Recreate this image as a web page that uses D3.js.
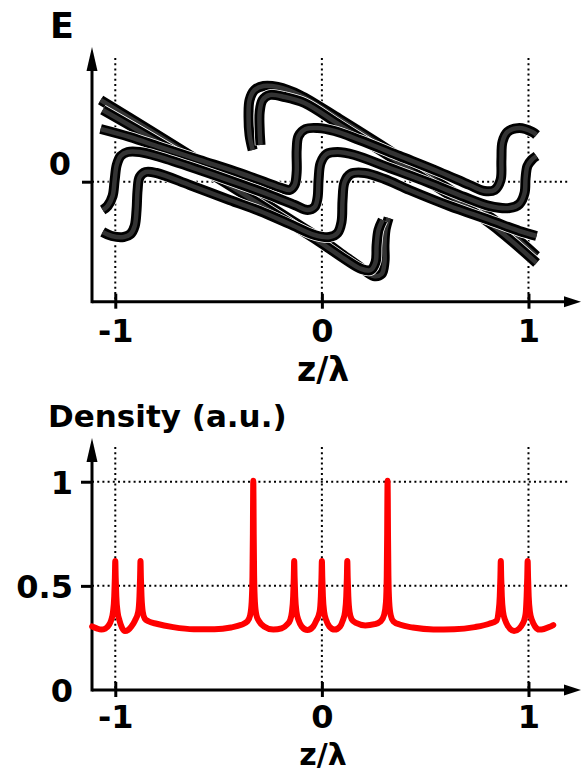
<!DOCTYPE html>
<html><head><meta charset="utf-8">
<script src="https://cdn.jsdelivr.net/npm/d3@7"></script>
<style>html,body{margin:0;padding:0;background:#fff;} svg{display:block}</style>
</head><body>
<svg id="chart" width="581" height="773"></svg>
<script>
// ---------- data ----------
const xTickValues = [-1, 0, 1];
const xTickLabels = ["-1", "0", "1"];
const eTickValues = [0];
const eTickLabels = ["0"];
const densityTickValues = [0.5, 1];
const densityTickLabels = ["0.5", "1"];
const densityZeroLabel = "0";
const xAxisTitle = "z/\u03bb";
const eAxisTitle = "E";
const densityAxisTitle = "Density (a.u.)";

// phase-space tubes, [z/lambda, E]
const tubeF1 = [[-1.071,0.817],[-0.834,0.517],[-0.592,0.207],[-0.350,-0.113],[-0.156,-0.373],[-0.011,-0.563],[0.110,-0.743],[0.192,-0.863],[0.250,-0.943],[0.289,-0.923],[0.303,-0.803],[0.303,-0.633],[0.308,-0.483],[0.323,-0.363]];
const tubeF2 = [[-1.061,0.717],[-0.834,0.447],[-0.592,0.147],[-0.350,-0.163],[-0.156,-0.413],[-0.011,-0.603],[0.110,-0.773],[0.192,-0.873],[0.236,-0.883],[0.260,-0.803],[0.265,-0.633],[0.274,-0.483],[0.294,-0.383]];
const tubeF3 = [[-0.335,0.317],[-0.350,0.467],[-0.355,0.667],[-0.350,0.817],[-0.326,0.917],[-0.282,0.957],[-0.214,0.947],[-0.108,0.867],[0.086,0.627],[0.279,0.377],[0.473,0.117],[0.666,-0.143],[0.860,-0.423],[1.039,-0.743]];
const tubeF4 = [[-0.297,0.367],[-0.301,0.517],[-0.301,0.697],[-0.287,0.817],[-0.253,0.867],[-0.180,0.847],[-0.084,0.787],[0.086,0.567],[0.279,0.317],[0.473,0.057],[0.666,-0.203],[0.860,-0.493],[1.039,-0.813]];
const tubeA = [[-1.071,0.527],[-0.930,0.447],[-0.785,0.347],[-0.592,0.217],[-0.398,0.087],[-0.277,-0.003],[-0.195,-0.063],[-0.156,-0.083],[-0.132,-0.033],[-0.122,0.097],[-0.122,0.317],[-0.113,0.457],[-0.079,0.527],[-0.021,0.537],[0.061,0.507],[0.182,0.417],[0.376,0.257],[0.569,0.097],[0.715,-0.033],[0.787,-0.093],[0.836,-0.083],[0.865,0.017],[0.869,0.217],[0.874,0.397],[0.898,0.497],[0.956,0.537],[1.019,0.497],[1.039,0.467]];
const tubeB = [[-1.061,-0.283],[-1.037,-0.243],[-1.013,-0.143],[-1.003,0.017],[-0.993,0.167],[-0.974,0.257],[-0.940,0.297],[-0.882,0.297],[-0.785,0.247],[-0.592,0.117],[-0.398,-0.023],[-0.253,-0.133],[-0.132,-0.233],[-0.069,-0.283],[-0.035,-0.253],[-0.021,-0.163],[-0.016,0.017],[-0.006,0.187],[0.023,0.277],[0.076,0.297],[0.158,0.267],[0.328,0.137],[0.521,-0.013],[0.690,-0.153],[0.811,-0.243],[0.908,-0.263],[0.956,-0.223],[0.981,-0.113],[0.986,0.037],[0.995,0.157],[1.015,0.217],[1.039,0.257]];
const tubeC = [[-1.061,-0.503],[-1.017,-0.543],[-0.959,-0.553],[-0.926,-0.523],[-0.906,-0.443],[-0.897,-0.283],[-0.892,-0.083],[-0.882,0.047],[-0.853,0.097],[-0.800,0.087],[-0.640,-0.033],[-0.447,-0.183],[-0.301,-0.293],[-0.156,-0.423],[-0.035,-0.533],[0.037,-0.553],[0.076,-0.513],[0.095,-0.403],[0.100,-0.183],[0.110,-0.003],[0.139,0.077],[0.207,0.087],[0.303,0.027],[0.424,-0.083],[0.618,-0.243],[0.811,-0.383],[0.956,-0.493],[1.039,-0.543]];

// density profile, [z/lambda, density]
const density = [
[-1.112,0.305],[-1.09,0.296],[-1.068,0.290],[-1.048,0.295],[-1.032,0.310],[-1.02,0.335],[-1.011,0.375],[-1.005,0.45],[-1.002,0.54],[-1.0,0.62],[-0.998,0.54],[-0.995,0.45],[-0.989,0.375],[-0.98,0.335],[-0.968,0.300],[-0.953,0.283],[-0.938,0.288],[-0.922,0.305],[-0.905,0.333],[-0.889,0.375],[-0.883,0.45],[-0.880,0.54],[-0.878,0.62],[-0.876,0.54],[-0.873,0.45],[-0.867,0.375],[-0.857,0.342],[-0.84,0.330],[-0.80,0.318],[-0.72,0.302],[-0.62,0.292],[-0.52,0.292],[-0.44,0.300],[-0.39,0.313],[-0.36,0.330],[-0.347,0.36],[-0.340,0.42],[-0.336,0.55],[-0.334,0.75],[-0.333,0.92],[-0.332,1.005],[-0.331,0.92],[-0.330,0.75],[-0.328,0.55],[-0.324,0.42],[-0.317,0.36],[-0.304,0.330],[-0.28,0.305],[-0.235,0.290],[-0.195,0.296],[-0.168,0.315],[-0.154,0.335],[-0.145,0.375],[-0.139,0.45],[-0.136,0.54],[-0.134,0.62],[-0.132,0.54],[-0.129,0.45],[-0.123,0.375],[-0.113,0.335],[-0.098,0.305],[-0.07,0.288],[-0.042,0.305],[-0.027,0.333],[-0.011,0.375],[-0.005,0.45],[-0.002,0.54],[0.0,0.62],[0.002,0.54],[0.005,0.45],[0.011,0.375],[0.021,0.335],[0.036,0.305],[0.062,0.290],[0.088,0.305],[0.101,0.333],[0.112,0.375],[0.118,0.45],[0.121,0.54],[0.123,0.62],[0.125,0.54],[0.128,0.45],[0.134,0.375],[0.144,0.340],[0.165,0.322],[0.21,0.310],[0.255,0.316],[0.285,0.330],[0.301,0.36],[0.310,0.42],[0.314,0.55],[0.316,0.75],[0.317,0.92],[0.318,1.005],[0.319,0.92],[0.320,0.75],[0.322,0.55],[0.326,0.42],[0.333,0.36],[0.346,0.330],[0.38,0.313],[0.44,0.300],[0.54,0.291],[0.64,0.292],[0.74,0.302],[0.81,0.318],[0.845,0.333],[0.855,0.375],[0.861,0.45],[0.864,0.54],[0.866,0.62],[0.868,0.54],[0.871,0.45],[0.877,0.375],[0.887,0.335],[0.902,0.305],[0.93,0.283],[0.955,0.295],[0.970,0.315],[0.982,0.345],[0.987,0.375],[0.991,0.45],[0.994,0.54],[0.996,0.62],[0.998,0.54],[1.001,0.45],[1.007,0.375],[1.017,0.335],[1.032,0.305],[1.052,0.290],[1.075,0.293],[1.10,0.302],[1.12,0.312]
];

// ---------- drawing ----------
const FONT = "'DejaVu Sans', Verdana, sans-serif";
const svg = d3.select("#chart");
const x = d3.scaleLinear().domain([-1.1127, 1.2542]).range([92, 581]);
const yE = d3.scaleLinear().domain([-1.2, 1.347]).range([301.7, 47]);
const yD = d3.scaleLinear().domain([0, 1.21]).range([690, 438]);

function dotted(g, x1, y1, x2, y2) {
  g.append("line").attr("x1", x1).attr("y1", y1).attr("x2", x2).attr("y2", y2)
    .attr("stroke", "#000").attr("stroke-width", 2).attr("stroke-dasharray", "2,3.2");
}

function panelAxes(yScale, yTop, gridY, gridTop, labelY, titleY, titleSize) {
  const g = svg.append("g");
  const x0 = x.range()[0], y0 = yScale.range()[0];
  xTickValues.forEach(v => dotted(g, x(v), gridTop, x(v), y0));
  gridY.forEach(v => dotted(g, x0, yScale(v), 570, yScale(v)));
  g.append("line").attr("x1", x0).attr("y1", y0).attr("x2", 566).attr("y2", y0).attr("stroke", "#000").attr("stroke-width", 3);
  g.append("line").attr("x1", x0).attr("y1", y0 + 1.5).attr("x2", x0).attr("y2", yTop + 20).attr("stroke", "#000").attr("stroke-width", 3);
  g.append("path").attr("d", `M581,${y0}L564,${y0 - 5.5}L564,${y0 + 5.5}Z`).attr("fill", "#000");
  g.append("path").attr("d", `M${x0},${yTop}L${x0 - 5.5},${yTop + 24}L${x0 + 5.5},${yTop + 24}Z`).attr("fill", "#000");
  const ax = g.append("g").attr("transform", `translate(0,${y0})`)
    .call(d3.axisBottom(x).tickValues(xTickValues).tickFormat((d, i) => xTickLabels[i]).tickSize(7).tickPadding(0));
  ax.select(".domain").remove();
  ax.selectAll(".tick line").attr("y1", -8).attr("y2", 7).attr("stroke", "#000").attr("stroke-width", 3);
  ax.selectAll(".tick text").attr("y", labelY).attr("dy", 0)
    .attr("font-family", FONT).attr("font-weight", "bold").attr("font-size", 32).attr("fill", "#000");
  g.append("text").attr("x", 323).attr("y", titleY).attr("text-anchor", "middle")
    .attr("font-family", FONT).attr("font-weight", "bold").attr("font-size", titleSize).text(xAxisTitle);
  return g;
}

// ---- top panel ----
const gTop = panelAxes(yE, 47, eTickValues, 58, 40, 381, 33);
const ayE = gTop.append("g").attr("transform", `translate(${x.range()[0]},0)`)
  .call(d3.axisLeft(yE).tickValues(eTickValues).tickFormat((d, i) => eTickLabels[i]).tickSize(10).tickPadding(0));
ayE.select(".domain").remove();
ayE.selectAll(".tick line").attr("stroke", "#000").attr("stroke-width", 3);
ayE.selectAll(".tick text").attr("x", -21).attr("y", -7).attr("dy", 0)
  .attr("font-family", FONT).attr("font-weight", "bold").attr("font-size", 32).attr("fill", "#000");
gTop.append("text").attr("x", 50).attr("y", 38)
  .attr("font-family", FONT).attr("font-weight", "bold").attr("font-size", 35).text(eAxisTitle);

const tubeLine = d3.line().x(d => x(d[0])).y(d => yE(d[1])).curve(d3.curveCatmullRom.alpha(0.5));
const tubes = [tubeF1, tubeF2, tubeF3, tubeF4, tubeA, tubeB, tubeC];
const gT = svg.append("g");
tubes.forEach(t => {
  const d = tubeLine(t);
  gT.append("path").attr("d", d).attr("fill", "none").attr("stroke", "#fff")
    .attr("stroke-width", 11.5).attr("stroke-linejoin", "round").attr("stroke-linecap", "butt");
  gT.append("path").attr("d", d).attr("fill", "none").attr("stroke", "#000")
    .attr("stroke-width", 10).attr("stroke-linejoin", "round").attr("stroke-linecap", "butt");
  gT.append("path").attr("d", d).attr("fill", "none").attr("stroke", "#333")
    .attr("stroke-width", 4.5).attr("stroke-linejoin", "round").attr("stroke-linecap", "butt");
});

// ---- bottom panel ----
const gBot = panelAxes(yD, 438, densityTickValues, 447, 38, 765, 30);
const ayD = gBot.append("g").attr("transform", `translate(${x.range()[0]},0)`)
  .call(d3.axisLeft(yD).tickValues(densityTickValues).tickFormat((d, i) => densityTickLabels[i]).tickSize(11).tickPadding(0));
ayD.select(".domain").remove();
ayD.selectAll(".tick line").attr("stroke", "#000").attr("stroke-width", 3);
ayD.selectAll(".tick text").attr("x", -19).attr("y", 12).attr("dy", 0)
  .attr("font-family", FONT).attr("font-weight", "bold").attr("font-size", 32).attr("fill", "#000");
gBot.append("text").attr("x", x.range()[0] - 19).attr("y", yD(0) + 12).attr("text-anchor", "end")
  .attr("font-family", FONT).attr("font-weight", "bold").attr("font-size", 32).text(densityZeroLabel);
gBot.append("text").attr("x", 48).attr("y", 427)
  .attr("font-family", FONT).attr("font-weight", "bold").attr("font-size", 31).text(densityAxisTitle);

const dLine = d3.line().x(d => x(d[0])).y(d => yD(d[1])).curve(d3.curveMonotoneX);
svg.append("path").attr("d", dLine(density)).attr("fill", "none").attr("stroke", "#ff0000")
  .attr("stroke-width", 6).attr("stroke-linejoin", "round").attr("stroke-linecap", "round");
</script>
</body></html>
